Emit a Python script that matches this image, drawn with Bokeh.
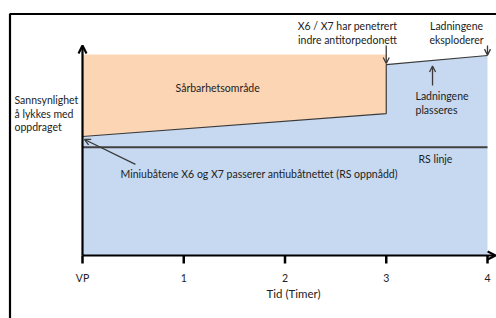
from bokeh.plotting import figure
from bokeh.models import ColumnDataSource, Arrow, OpenHead, Range1d
from bokeh.core.properties import value
from bokeh.embed import file_html
from bokeh.resources import INLINE

# ---- data ----
hours = [0, 1, 2, 3, 4]
tick_labels = ["VP", "1", "2", "3", "4"]
# probability of success curve (before and after X6/X7 penetrated inner net)
curve_x = [0, 3, 3, 4]
curve_y = [59.2, 70.6, 95.0, 99.5]
rs_level = 53.9
vuln_top = 100.0
axis_top = 104.5

FONT = value("Lato")
FS = "10.5px"
BLUE = "#C6D9F0"
ORANGE = "#FCD5B5"
DARK = "#3a3a3a"

W, H = 496, 318
px_per_x = 101.25
px_per_y = 2.01
x0 = -82 / px_per_x
y1 = 255 / px_per_y
p = figure(width=W, height=H, output_backend="svg", toolbar_location=None,
           x_range=Range1d(x0, x0 + W / px_per_x),
           y_range=Range1d(y1 - H / px_per_y, y1),
           min_border=0)
p.axis.visible = False
p.grid.visible = False
p.outline_line_color = None
p.background_fill_color = "white"

# outer frame
fl = x0 + 9.5 / px_per_x
ft = y1 - 13.5 / px_per_y
p.line([fl, fl, 6], [-60, ft, ft], line_color="black", line_width=2.2)

# blue region (under curve)
p.patch([0] + curve_x + [4], [0] + curve_y + [0], fill_color=BLUE, line_color=None)
# orange vulnerability region
p.patch([0, 0, 3, 3], [curve_y[0], vuln_top, vuln_top, curve_y[1]],
        fill_color=ORANGE, line_color=None)
# curve line
p.line(curve_x, curve_y, line_color=DARK, line_width=1.2)
# RS line
p.line([0, 4], [rs_level, rs_level], line_color="#404040", line_width=2)

# axes with arrows
p.add_layout(Arrow(x_start=0, y_start=0, x_end=0, y_end=axis_top,
                   line_width=2.2, line_color="black",
                   end=OpenHead(size=8, line_width=2.2, line_color="black")))
p.add_layout(Arrow(x_start=0, y_start=0, x_end=4.08, y_end=0,
                   line_width=2.2, line_color="black",
                   end=OpenHead(size=8, line_width=2.2, line_color="black")))
# ticks
p.segment(x0=hours, y0=[0] * 5, x1=hours, y1=[-4] * 5, line_color="black", line_width=2.5)
p.text(x=hours, y=[-11.4] * 5, text=tick_labels, text_font=FONT, text_font_size=FS,
       text_align="center", text_baseline="middle", text_color="#222")
p.text(x=[2.084], y=[-18.9], text=["Tid (Timer)"], text_font=FONT, text_font_size="11.5px",
       text_align="center", text_baseline="middle", text_color="#222")

# annotation texts
left_txt = ColumnDataSource(dict(
    x=[x0 + 14 / px_per_x] * 3 + [0.919, 3.289, 3.289, 3.318, 0.375],
    y=[77.6, 70.6, 63.7, 83.1, 79.6, 72.6, 47.8, 40.3],
    t=["Sannsynlighet", "å lykkes med", "oppdraget", "Sårbarhetsområde",
       "Ladningene", "plasseres", "RS linje",
       "Miniubåtene X6 og X7 passerer antiubåtnettet (RS oppnådd)"]))
p.text(x="x", y="y", text="t", source=left_txt, text_font=FONT, text_font_size=FS,
       text_align="left", text_baseline="middle", text_color="#222")
ctr_txt = ColumnDataSource(dict(
    x=[2.617, 2.617, 3.694, 3.694],
    y=[114.4, 106.97, 114.4, 106.97],
    t=["X6 / X7 har penetrert", "indre antitorpedonett", "Ladningene", "eksploderer"]))
p.text(x="x", y="y", text="t", source=ctr_txt, text_font=FONT, text_font_size=FS,
       text_align="center", text_baseline="middle", text_color="#222")

# pointer arrows
def arr(xs, ys, xe, ye, size=6):
    p.add_layout(Arrow(x_start=xs, y_start=ys, x_end=xe, y_end=ye,
                       line_width=1.3, line_color=DARK,
                       end=OpenHead(size=size, line_width=1.3, line_color=DARK)))

arr(0.523, 45.3, 0.02, curve_y[0] - 1.5)
arr(3, 104.5, 3, curve_y[2] + 0.5)
arr(4, 104.5, 4, curve_y[3] + 0.2)
arr(3.457, 84.6, 3.457, 94.3)

open("out.html", "w").write(file_html(p, INLINE))
